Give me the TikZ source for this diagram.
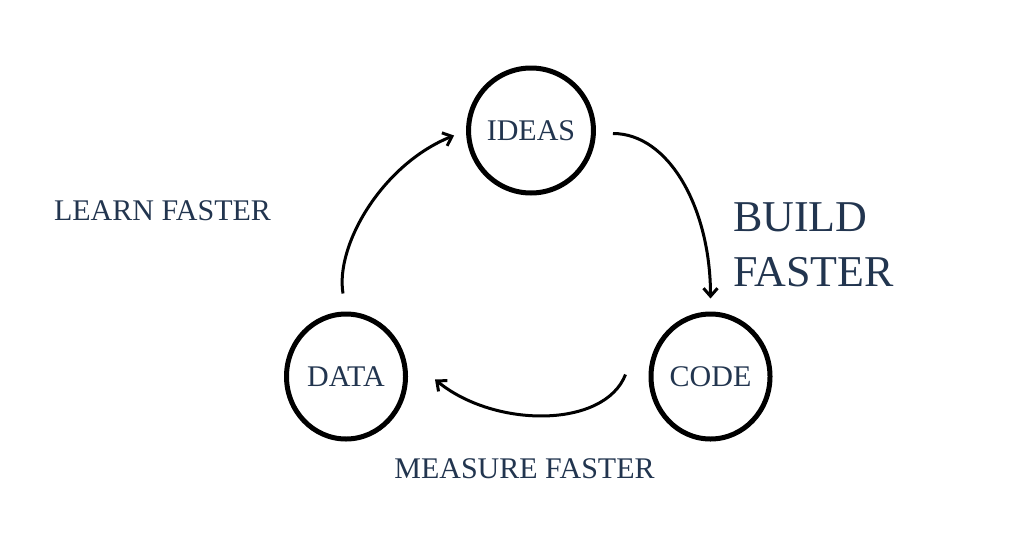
\documentclass[tikz,border=0pt]{standalone}
\usepackage{fontspec}
\setmainfont{Liberation Serif}
\usepackage{tikz}
\usetikzlibrary{shapes, calc, arrows.meta}
\definecolor{ink}{HTML}{22354F}

\begin{document}
\begin{tikzpicture}[x=1pt, y=-1pt]
		\tikzstyle{phase}=[
		draw,
		ellipse,
		line width=5pt,
		inner sep=0pt,
		minimum width=119pt,
		minimum height=125pt,
		text=ink,
		font=\fontsize{30}{36}\selectfont]
		\tikzstyle{note}=[
		text=ink,
		inner sep=0pt,
		font=\fontsize{30}{36}\selectfont]
		\tikzstyle{bignote}=[
		text=ink,
		inner sep=0pt,
		align=left,
		anchor=west,
		font=\fontsize{44}{55}\selectfont]
		\tikzstyle{cycle}=[
		line width=3pt,
		-{Straight Barb[length=8pt, width=14pt]}]
		\useasboundingbox (0,0) rectangle (1032,538);
		\node[phase] (IDEAS) at (531,130.5) {IDEAS};
		\node[phase] (CODE) at (710.5,376.5) {CODE};
		\node[phase] (DATA) at (346,376.5) {DATA};
		%
		\draw[cycle] ($(IDEAS.east)+(17,3)$) .. controls +(56,0) and +(0,-90) .. ($(CODE.north)+(0,-13)$);
		\draw[cycle] ($(CODE.west)+(-23,-2)$) .. controls +(-21,54) and +(60,49) .. ($(DATA.east)+(27,3)$);
		\draw[cycle] ($(DATA.north)+(-3,-18)$) .. controls +(-8,-48) and +(-72,29) .. ($(IDEAS.west)+(-12,5)$);
		%
		\node[note] (learn) at (162.5,210.5) {LEARN FASTER};
		\node[note] (measure) at (524.5,468.5) {MEASURE FASTER};
		\node[bignote] (build) at (733,245) {BUILD\\FASTER};
	\end{tikzpicture}
\end{document}
